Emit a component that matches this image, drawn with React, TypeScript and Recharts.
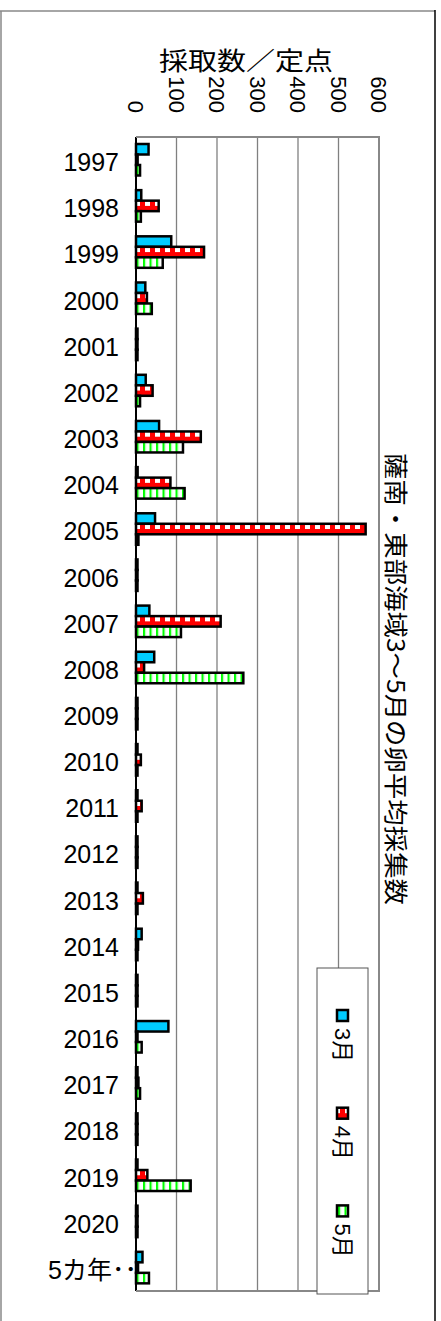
import { BarChart, Bar, XAxis, YAxis, CartesianGrid } from "recharts";

// values (eggs per station)
const YEARS = [
  "1997", "1998", "1999", "2000", "2001", "2002", "2003", "2004", "2005",
  "2006", "2007", "2008", "2009", "2010", "2011", "2012", "2013", "2014",
  "2015", "2016", "2017", "2018", "2019", "2020", "5カ年･･",
];
const MARCH = [31, 13, 87, 23, 0, 24, 57, 4, 47, 2, 33, 45, 0, 0, 1, 0, 0, 14, 0, 80, 0, 0, 0, 0, 16];
const APRIL = [4, 56, 168, 27, 0, 41, 160, 85, 567, 2, 209, 20, 0, 12, 14, 0, 17, 5, 0, 0, 6, 0, 28, 0, 5];
const MAY = [10, 12, 66, 39, 0, 10, 116, 120, 6, 0, 111, 265, 0, 1, 1, 0, 1, 3, 0, 14, 10, 0, 135, 0, 32];
const SERIES_NAMES = ["3月", "4月", "5月"];
const VALUE_TICKS = [0, 100, 200, 300, 400, 500, 600];
const TITLE = "薩南・東部海域3～5月の卵平均採集数";
const VALUE_AXIS_TITLE = "採取数／定点";

const W = 441;
const H = 1321;
const PLOT = { left: 136, top: 137, right: 379, bottom: 1291 };
const LATIN = "'Liberation Sans', Arial, 'Noto Sans CJK JP', sans-serif";
const CJK = "'Noto Sans CJK JP', sans-serif";

const chartData = YEARS.map((year, i) => ({
  year,
  mar: MARCH[i],
  apr: APRIL[i],
  may: MAY[i],
}));

const edgeTicks = YEARS.map((_, i) => i).concat(YEARS.length);

type Kind = "mar" | "apr" | "may";

function SeriesRect({ x, y, width, height, kind }: any) {
  if (x == null || y == null || height == null) return null;
  // zero values still show their black outline, like the original
  const w = Math.max(width || 0, 1.5);
  return (
    <g>
      {kind === "mar" && <rect x={x} y={y} width={w} height={height} fill="#00CCFF" />}
      {kind === "apr" && (
        <>
          <rect x={x} y={y} width={w} height={height} fill="#FF0000" />
          <rect x={x} y={y} width={w} height={height / 2} fill="url(#apr-holes)" />
        </>
      )}
      {kind === "may" && <rect x={x} y={y} width={w} height={height} fill="url(#may-stripes)" />}
      <rect x={x} y={y} width={w} height={height} fill="none" stroke="#000" strokeWidth={2.5} />
    </g>
  );
}

function ValueTick({ x, payload }: any) {
  return (
    <text
      transform={`translate(${x - 7.8},${PLOT.top - 24}) rotate(90)`}
      textAnchor="end"
      fontSize={22}
      fontFamily={LATIN}
      fill="#000"
    >
      {payload.value}
    </text>
  );
}

function YearTick({ y, payload }: any) {
  const long = String(payload.value).length > 4;
  return (
    <text
      x={long ? PLOT.left + 1 : PLOT.left - 17}
      y={y + 11}
      textAnchor="end"
      fontSize={25}
      fontFamily={LATIN}
      fill="#000"
    >
      {payload.value}
    </text>
  );
}

function Patterns() {
  return (
    <svg width={0} height={0} style={{ position: "absolute" }}>
      <defs>
        <pattern id="apr-holes" width="10" height="10" patternUnits="userSpaceOnUse">
          <rect x="5" y="0" width="5" height="10" fill="#FFFFFF" />
        </pattern>
        <pattern id="may-stripes" width="6.5" height="10" patternUnits="userSpaceOnUse">
          <rect width="6.5" height="10" fill="#FFFFFF" />
          <rect x="0" width="2" height="10" fill="#00FF00" />
          <rect x="2" width="1" height="10" fill="#A8FFA8" />
        </pattern>
      </defs>
    </svg>
  );
}

function Overlay() {
  const kinds: Kind[] = ["mar", "apr", "may"];
  return (
    <svg
      width={W}
      height={H}
      style={{ position: "absolute", left: 0, top: 0, pointerEvents: "none" }}
    >
      {/* outer frame */}
      <line x1={0} y1={11} x2={435} y2={11} stroke="#888" strokeWidth={1.5} />
      <line x1={1} y1={11} x2={1} y2={H} stroke="#888" strokeWidth={1.5} />
      <line x1={435} y1={10} x2={435} y2={H} stroke="#000" strokeWidth={1.5} />

      {/* plot border, left side is the category axis */}
      <polyline
        points={`${PLOT.left},${PLOT.top} ${PLOT.right},${PLOT.top} ${PLOT.right},${PLOT.bottom} ${PLOT.left},${PLOT.bottom}`}
        fill="none"
        stroke="#888"
        strokeWidth={2}
      />

      <text
        x={246}
        y={70}
        textAnchor="middle"
        fontSize={25}
        fontFamily={CJK}
        textLength={174}
        lengthAdjust="spacingAndGlyphs"
        fill="#000"
      >
        {VALUE_AXIS_TITLE}
      </text>

      <text
        transform="translate(397,679) rotate(90)"
        textAnchor="middle"
        dominantBaseline="central"
        fontSize={24}
        fontFamily={CJK}
        textLength={452}
        lengthAdjust="spacingAndGlyphs"
        fill="#000"
      >
        {TITLE}
      </text>

      {/* legend */}
      <rect x={317} y={968} width={51} height={326} fill="#fff" stroke="#555" strokeWidth={1} />
      {SERIES_NAMES.map((name, i) => {
        const my = 1010 + i * 97.7;
        return (
          <g key={name}>
            <SeriesRect x={337} y={my} width={11} height={11} kind={kinds[i]} />
            <text
              transform={`translate(334.5,${my + 18}) rotate(90)`}
              fontSize={22}
              fontFamily={LATIN}
              fill="#000"
            >
              {name}
            </text>
          </g>
        );
      })}
    </svg>
  );
}

export default function App() {
  return (
    <div style={{ position: "absolute", left: 0, top: 0, width: W, height: H, background: "#fff" }}>
      <Patterns />
      <BarChart
        width={W}
        height={H}
        data={chartData}
        layout="vertical"
        barSize={10.5}
        barGap={0}
        margin={{ top: 0, right: W - PLOT.right, bottom: H - PLOT.bottom, left: 0 }}
      >
        <CartesianGrid horizontal={false} stroke="#808080" strokeWidth={1.3} />
        <XAxis
          type="number"
          orientation="top"
          domain={[0, 600]}
          ticks={VALUE_TICKS}
          interval={0}
          height={PLOT.top}
          axisLine={false}
          tickLine={false}
          tick={<ValueTick />}
        />
        <YAxis
          type="category"
          dataKey="year"
          width={PLOT.left}
          interval={0}
          axisLine={{ stroke: "#000", strokeWidth: 2 }}
          tickLine={false}
          tick={<YearTick />}
        />
        <YAxis
          yAxisId="edge"
          type="number"
          domain={[0, YEARS.length]}
          ticks={edgeTicks}
          interval={0}
          mirror
          axisLine={false}
          tickSize={7}
          tickLine={{ stroke: "#555", strokeWidth: 1 }}
          tick={false}
        />
        <Bar dataKey="mar" name={SERIES_NAMES[0]} minPointSize={1} isAnimationActive={false}
          shape={(p: any) => <SeriesRect {...p} kind="mar" />} />
        <Bar dataKey="apr" name={SERIES_NAMES[1]} minPointSize={1} isAnimationActive={false}
          shape={(p: any) => <SeriesRect {...p} kind="apr" />} />
        <Bar dataKey="may" name={SERIES_NAMES[2]} minPointSize={1} isAnimationActive={false}
          shape={(p: any) => <SeriesRect {...p} kind="may" />} />
      </BarChart>
      <Overlay />
    </div>
  );
}
